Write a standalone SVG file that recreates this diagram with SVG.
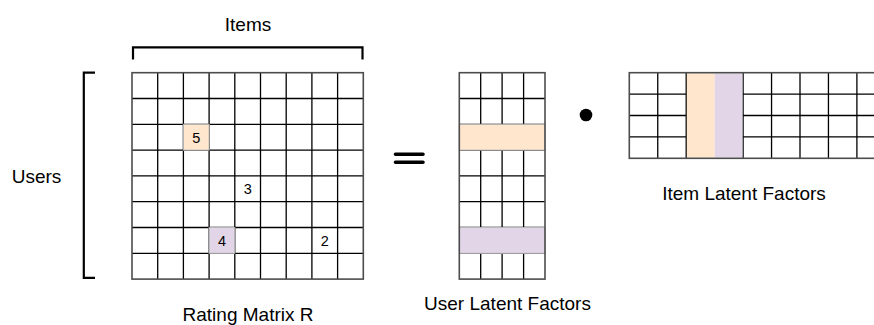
<svg xmlns="http://www.w3.org/2000/svg" width="874" height="325" viewBox="0 0 874 325">
<style>
.grid{fill:none;stroke:#000;stroke-width:1.3}
.outer{fill:none;stroke:#4d4d4d;stroke-width:1.6}
.peach{fill:#FFE6CC}
.purple{fill:#E1D5E7}
.hl{stroke:#b5b5b5;stroke-width:1}
.lbl{font-family:"Liberation Sans",Arial,sans-serif;font-size:19px;fill:#000;text-anchor:middle}
.num{font-family:"Liberation Sans",Arial,sans-serif;font-size:14.5px;fill:#000;text-anchor:middle}
.br{fill:none;stroke:#000;stroke-width:2.2}
</style>
<rect width="874" height="325" fill="#fff"/>

<g id="items-label">
<path class="br" d="M133,59.5 V47.3 H362.5 V59.5"/>
<text class="lbl" x="248" y="31">Items</text>
</g>

<g id="users-label">
<path class="br" d="M95,72.7 H83.8 V277.8 H95"/>
<text class="lbl" x="36.5" y="183">Users</text>
</g>

<g id="rating-matrix">
<path class="grid" d="M157.7,72.7V279.1M183.4,72.7V279.1M209.1,72.7V279.1M234.8,72.7V279.1M260.5,72.7V279.1M286.2,72.7V279.1M311.9,72.7V279.1M337.6,72.7V279.1M132,98.5H363.3M132,124.3H363.3M132,150.1H363.3M132,175.9H363.3M132,201.7H363.3M132,227.5H363.3M132,253.3H363.3"/>
<rect class="peach hl" x="183.4" y="124.3" width="25.7" height="25.8"/>
<rect class="purple hl" x="209.1" y="227.5" width="25.7" height="25.8"/>
<rect class="outer" x="132" y="72.7" width="231.3" height="206.4"/>
<text class="num" x="196.3" y="142.6">5</text>
<text class="num" x="247.7" y="194.2">3</text>
<text class="num" x="222" y="245.8">4</text>
<text class="num" x="324.8" y="245.8">2</text>
<text class="lbl" x="248" y="321">Rating Matrix R</text>
</g>

<g id="equals">
<path d="M395.5,154.3H423M395.5,162.3H423" stroke="#000" stroke-width="3.6" stroke-linecap="round"/>
</g>

<g id="user-latent">
<path class="grid" d="M480.7,72.7V279.1M502.1,72.7V279.1M523.6,72.7V279.1M459.3,98.5H545M459.3,124.3H545M459.3,150.1H545M459.3,175.9H545M459.3,201.7H545M459.3,227.5H545M459.3,253.3H545"/>
<rect class="peach hl" x="459.3" y="124.3" width="85.7" height="25.8"/>
<rect class="purple hl" x="459.3" y="227.5" width="85.7" height="25.8"/>
<rect class="outer" x="459.3" y="72.7" width="85.7" height="206.4"/>
<text class="lbl" x="507.5" y="310">User Latent Factors</text>
</g>

<g id="dot">
<circle cx="586" cy="115" r="6.3" fill="#000"/>
</g>

<g id="item-latent">
<path class="grid" d="M657.75,72.7V158.3M686.2,72.7V158.3M743.1,72.7V158.3M771.55,72.7V158.3M800,72.7V158.3M828.45,72.7V158.3M856.9,72.7V158.3M629.3,94.1H686.2M629.3,115.5H686.2M629.3,136.9H686.2M743.1,94.1H885.35M743.1,115.5H885.35M743.1,136.9H885.35"/>
<rect class="peach" x="686.9" y="73.5" width="27.75" height="84"/>
<rect class="purple" x="714.65" y="73.5" width="27.8" height="84"/>
<rect class="outer" x="629.3" y="72.7" width="256.05" height="85.6"/>
<text class="lbl" x="744" y="200">Item Latent Factors</text>
</g>
</svg>
